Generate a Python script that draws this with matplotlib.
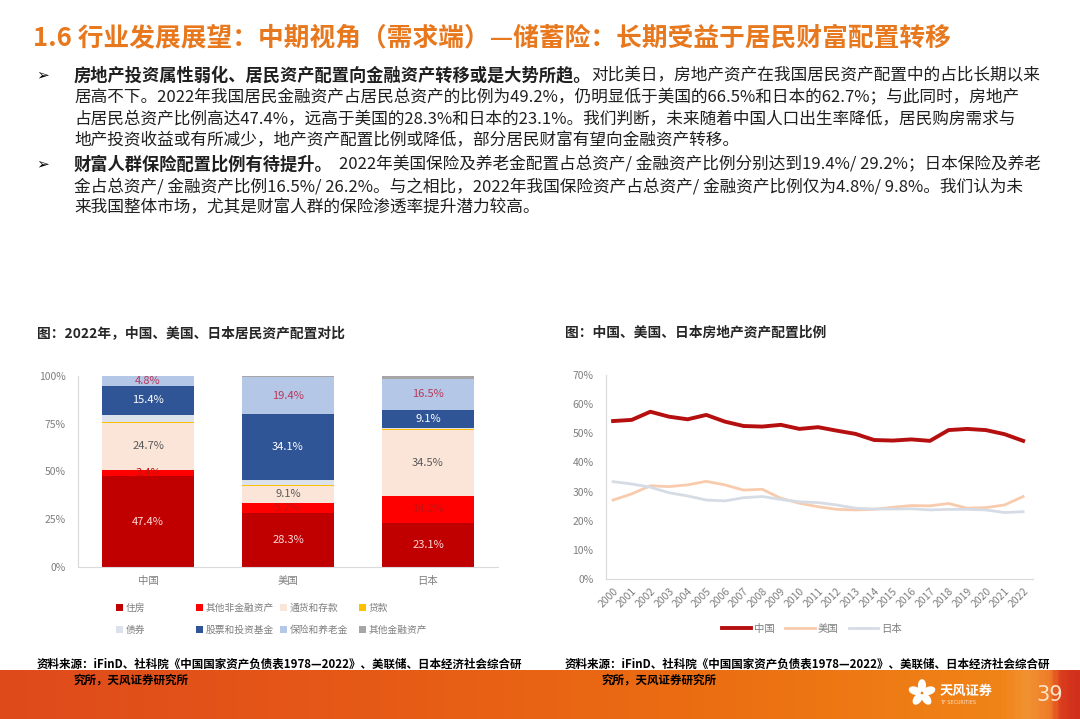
import numpy as np
import matplotlib
matplotlib.use('Agg')
import matplotlib.pyplot as plt
from matplotlib.patches import Patch, Ellipse
from matplotlib.colors import LinearSegmentedColormap

plt.rcParams['font.family'] = ['Noto Sans CJK SC', 'DejaVu Sans']

W, H = 1080, 719


def fx(px):
    return px / W


def fy(py):
    return 1 - py / H


# ---------------- data ----------------
countries = ['中国', '美国', '日本']
asset_names = ['住房', '其他非金融资产', '通货和存款', '贷款',
               '债券', '股票和投资基金', '保险和养老金', '其他金融资产']
housing = [47.4, 28.3, 23.1]
other_nonfin = [3.4, 5.2, 14.2]
deposits = [24.7, 9.1, 34.5]
loans = [0.1, 0.6, 0.3]
bonds = [3.8, 2.6, 0.8]
stocks = [15.4, 34.1, 9.1]
insurance = [4.8, 19.4, 16.5]
other_fin = [0.4, 0.7, 1.5]

years = ['2000', '2001', '2002', '2003', '2004', '2005', '2006', '2007',
         '2008', '2009', '2010', '2011', '2012', '2013', '2014', '2015',
         '2016', '2017', '2018', '2019', '2020', '2021', '2022']
china_re = [54.2, 54.6, 57.4, 55.7, 54.8, 56.3, 54.0, 52.5, 52.3, 52.9, 51.5, 52.1,
            50.9, 49.8, 47.7, 47.5, 47.9, 47.4, 51.1, 51.5, 51.1, 49.7, 47.4]
usa_re = [27.1, 29.2, 32.0, 31.7, 32.3, 33.5, 32.3, 30.5, 30.8, 27.7, 26.0, 24.8,
          23.9, 23.7, 23.9, 24.6, 25.2, 25.1, 25.9, 24.3, 24.5, 25.4, 28.3]
japan_re = [33.4, 32.6, 31.5, 29.6, 28.5, 27.1, 26.8, 27.9, 28.3, 27.3, 26.5, 26.2,
            25.4, 24.3, 24.0, 24.0, 24.1, 23.7, 23.9, 23.9, 23.7, 22.8, 23.1]

# ---------------- figure ----------------
fig = plt.figure(figsize=(10.8, 7.19), dpi=100, facecolor='white')
renderer = fig.canvas.get_renderer()

# footer band (gradient)
band = fig.add_axes([0, 0, 1, fy(670)])
band.set_axis_off()
band_cmap = LinearSegmentedColormap.from_list('band', [
    (0.0, '#DF4A1C'), (0.35, '#E65A16'), (0.7, '#EC7112'), (0.93, '#F08418'),
    (0.955, '#F19332'), (0.975, '#EE7C28'), (0.985, '#DC3E1E'), (1.0, '#D0301C')])
band.imshow(np.linspace(0, 1, 400).reshape(1, -1), aspect='auto', cmap=band_cmap,
            extent=[0, 1, 0, 1])
band.set_xlim(0, 1)
band.set_ylim(0, 1)

# logo (small flower of white petals)
logo = fig.add_axes([fx(907), fy(708), fx(30), fy(678) - fy(708)])
logo.set_axis_off()
logo.set_xlim(-1, 1)
logo.set_ylim(-1, 1)
for ang in (90, 162, 234, 306, 18):
    r = np.deg2rad(ang)
    logo.add_patch(Ellipse((0.5 * np.cos(r), 0.5 * np.sin(r)), 0.75, 0.45,
                           angle=ang, color='white'))
fig.text(fx(940), fy(691), '天风证券', fontsize=9.5, color='white', fontweight='bold', va='center')
fig.text(fx(940), fy(703), 'TF SECURITIES', fontsize=3.5, color='#FBE0C8', va='center',
         family='DejaVu Sans')
fig.text(fx(1050), fy(695), '39', fontsize=15, color='#FBE3C8', va='center', ha='center',
         family='DejaVu Sans')

# title
title_color = '#E8781E'
fig.text(fx(33), fy(38), '1.6 行业发展展望：中期视角（需求端）—储蓄险：长期受益于居民财富配置转移',
         fontsize=18.5, fontweight='bold', color=title_color, va='center')

# body text
body_size = 12.0
bold_size = 12.4
text_color = '#1F1F1F'


def rich_line(x_px, y_px, parts):
    # y_px is the text centre line; draw on a common baseline
    x = fx(x_px)
    for txt, bold, gap in parts:
        x += gap / W
        t = fig.text(x, fy(y_px + 5.5), txt, color=text_color, va='baseline',
                     fontsize=bold_size if bold else body_size,
                     fontweight='bold' if bold else 'normal')
        bb = t.get_window_extent(renderer=renderer)
        x = bb.x1 / fig.bbox.width


fig.text(fx(36), fy(75), '➢', fontsize=11, color='black', va='center',
         family=['DejaVu Sans'])
rich_line(74, 75, [('房地产投资属性弱化、居民资产配置向金融资产转移或是大势所趋。', True, 0),
                   ('对比美日，房地产资产在我国居民资产配置中的占比长期以来', False, 0)])
rich_line(74, 97, [('居高不下。2022年我国居民金融资产占居民总资产的比例为49.2%，仍明显低于美国的66.5%和日本的62.7%；与此同时，房地产', False, 0)])
rich_line(74, 119, [('占居民总资产比例高达47.4%，远高于美国的28.3%和日本的23.1%。我们判断，未来随着中国人口出生率降低，居民购房需求与', False, 0)])
rich_line(74, 140, [('地产投资收益或有所减少，地产资产配置比例或降低，部分居民财富有望向金融资产转移。', False, 0)])
fig.text(fx(36), fy(164), '➢', fontsize=11, color='black', va='center',
         family=['DejaVu Sans'])
rich_line(74, 164, [('财富人群保险配置比例有待提升。', True, 0),
                    ('2022年美国保险及养老金配置占总资产/ 金融资产比例分别达到19.4%/ 29.2%；日本保险及养老', False, 6)])
rich_line(74, 186, [('金占总资产/ 金融资产比例16.5%/ 26.2%。与之相比，2022年我国保险资产占总资产/ 金融资产比例仅为4.8%/ 9.8%。我们认为未', False, 0)])
rich_line(74, 207, [('来我国整体市场，尤其是财富人群的保险渗透率提升潜力较高。', False, 0)])

# chart titles
fig.text(fx(37), fy(333), '图：2022年，中国、美国、日本居民资产配置对比', fontsize=9.9,
         fontweight='bold', color='#262626', va='center')
fig.text(fx(565), fy(333), '图：中国、美国、日本房地产资产配置比例', fontsize=9.9,
         fontweight='bold', color='#262626', va='center')

# source notes
src1 = '资料来源：iFinD、社科院《中国国家资产负债表1978—2022》、美联储、日本经济社会综合研'
src2 = '究所，天风证券研究所'
for x0 in (37, 565):
    fig.text(fx(x0), fy(664), src1, fontsize=8.3, fontweight='bold', color='black', va='center')
    fig.text(fx(x0 + 37), fy(680), src2, fontsize=8.3, fontweight='bold', color='black', va='center')

# ---------------- stacked bar chart ----------------
axL = fig.add_axes([fx(78), fy(567.3), fx(498) - fx(78), fy(375.7) - fy(567.3)])
series = [housing, other_nonfin, deposits, loans, bonds, stocks, insurance, other_fin]
colors = ['#C00000', '#FF0000', '#FBE5D9', '#FFC000', '#DCE2EB', '#2F5597', '#B4C7E7', '#A6A6A6']
label_colors = ['#FFD9D9', '#C81010', '#595959', None, None, 'white', '#B8385A', None]
x = np.arange(len(countries))
bottom = np.zeros(len(countries))
handles = []
for name, vals, col, lcol in zip(asset_names, series, colors, label_colors):
    vals = np.array(vals)
    axL.bar(x, vals / 100, 0.66, bottom=bottom / 100, color=col, edgecolor='none')
    if lcol is not None:
        for xi, b, v in zip(x, bottom, vals):
            axL.text(xi, (b + v / 2) / 100, f'{v:.1f}%', ha='center', va='center',
                     fontsize=8, color=lcol)
    bottom += vals
    handles.append(Patch(facecolor=col, edgecolor='none', label=name))

axL.set_xlim(-0.5, 2.5)
axL.set_ylim(0, 1)
axL.set_yticks([0, 0.25, 0.5, 0.75, 1.0])
axL.set_yticklabels(['0%', '25%', '50%', '75%', '100%'])
axL.set_xticks(x)
axL.set_xticklabels(countries)
axL.tick_params(axis='both', length=0, labelsize=7.5, labelcolor='#7F7F7F')
axL.tick_params(axis='y', pad=9)
axL.tick_params(axis='x', pad=6)
for s in ('top', 'right'):
    axL.spines[s].set_visible(False)
for s in ('left', 'bottom'):
    axL.spines[s].set_color('#D9D9D9')
    axL.spines[s].set_linewidth(0.8)

# legend: four columns placed individually (rows: first four / last four names)
col_x = [116, 196, 280, 359]
for c, cx in enumerate(col_x):
    idx = [c, c + 4]
    fig.legend([handles[i] for i in idx], [asset_names[i] for i in idx], ncol=1,
               loc='center left', bbox_to_anchor=(fx(cx), fy(619)), frameon=False,
               fontsize=7.0, labelcolor='#7F7F7F', handlelength=0.75, handleheight=0.75,
               handletextpad=0.25, labelspacing=1.3, borderpad=0, borderaxespad=0)

# ---------------- line chart ----------------
axR = fig.add_axes([fx(606), fy(579), fx(1033) - fx(606), fy(375) - fy(579)])
xr = np.arange(len(years))
axR.plot(xr, np.array(usa_re) / 100, color='#F8CBAD', lw=2.0, label='美国', zorder=2)
axR.plot(xr, np.array(japan_re) / 100, color='#D6DCE5', lw=2.0, label='日本', zorder=2)
axR.plot(xr, np.array(china_re) / 100, color='#B50F0F', lw=2.8, label='中国', zorder=3)
axR.set_xlim(-0.38, 22.53)
axR.set_ylim(0, 0.70)
axR.set_yticks(np.arange(0, 0.71, 0.1))
axR.set_yticklabels([f'{int(round(v * 100))}%' for v in np.arange(0, 0.71, 0.1)])
axR.set_xticks(xr)
axR.set_xticklabels(years, rotation=45, ha='right', rotation_mode='anchor')
axR.tick_params(axis='both', length=0, labelsize=7.5, labelcolor='#7F7F7F')
axR.tick_params(axis='y', pad=9)
axR.tick_params(axis='x', pad=5)
for s in ('top', 'right'):
    axR.spines[s].set_visible(False)
for s in ('left', 'bottom'):
    axR.spines[s].set_color('#D9D9D9')
    axR.spines[s].set_linewidth(0.8)

h, l = axR.get_legend_handles_labels()
lorder = [2, 0, 1]
fig.legend([h[i] for i in lorder], [l[i] for i in lorder], ncol=3, loc='center',
           bbox_to_anchor=(fx(812), fy(629)), frameon=False, fontsize=7.5,
           labelcolor='#7F7F7F', handlelength=2.8, handletextpad=0.3, columnspacing=1.0)

fig.savefig('out.png', dpi=100, facecolor='white')
